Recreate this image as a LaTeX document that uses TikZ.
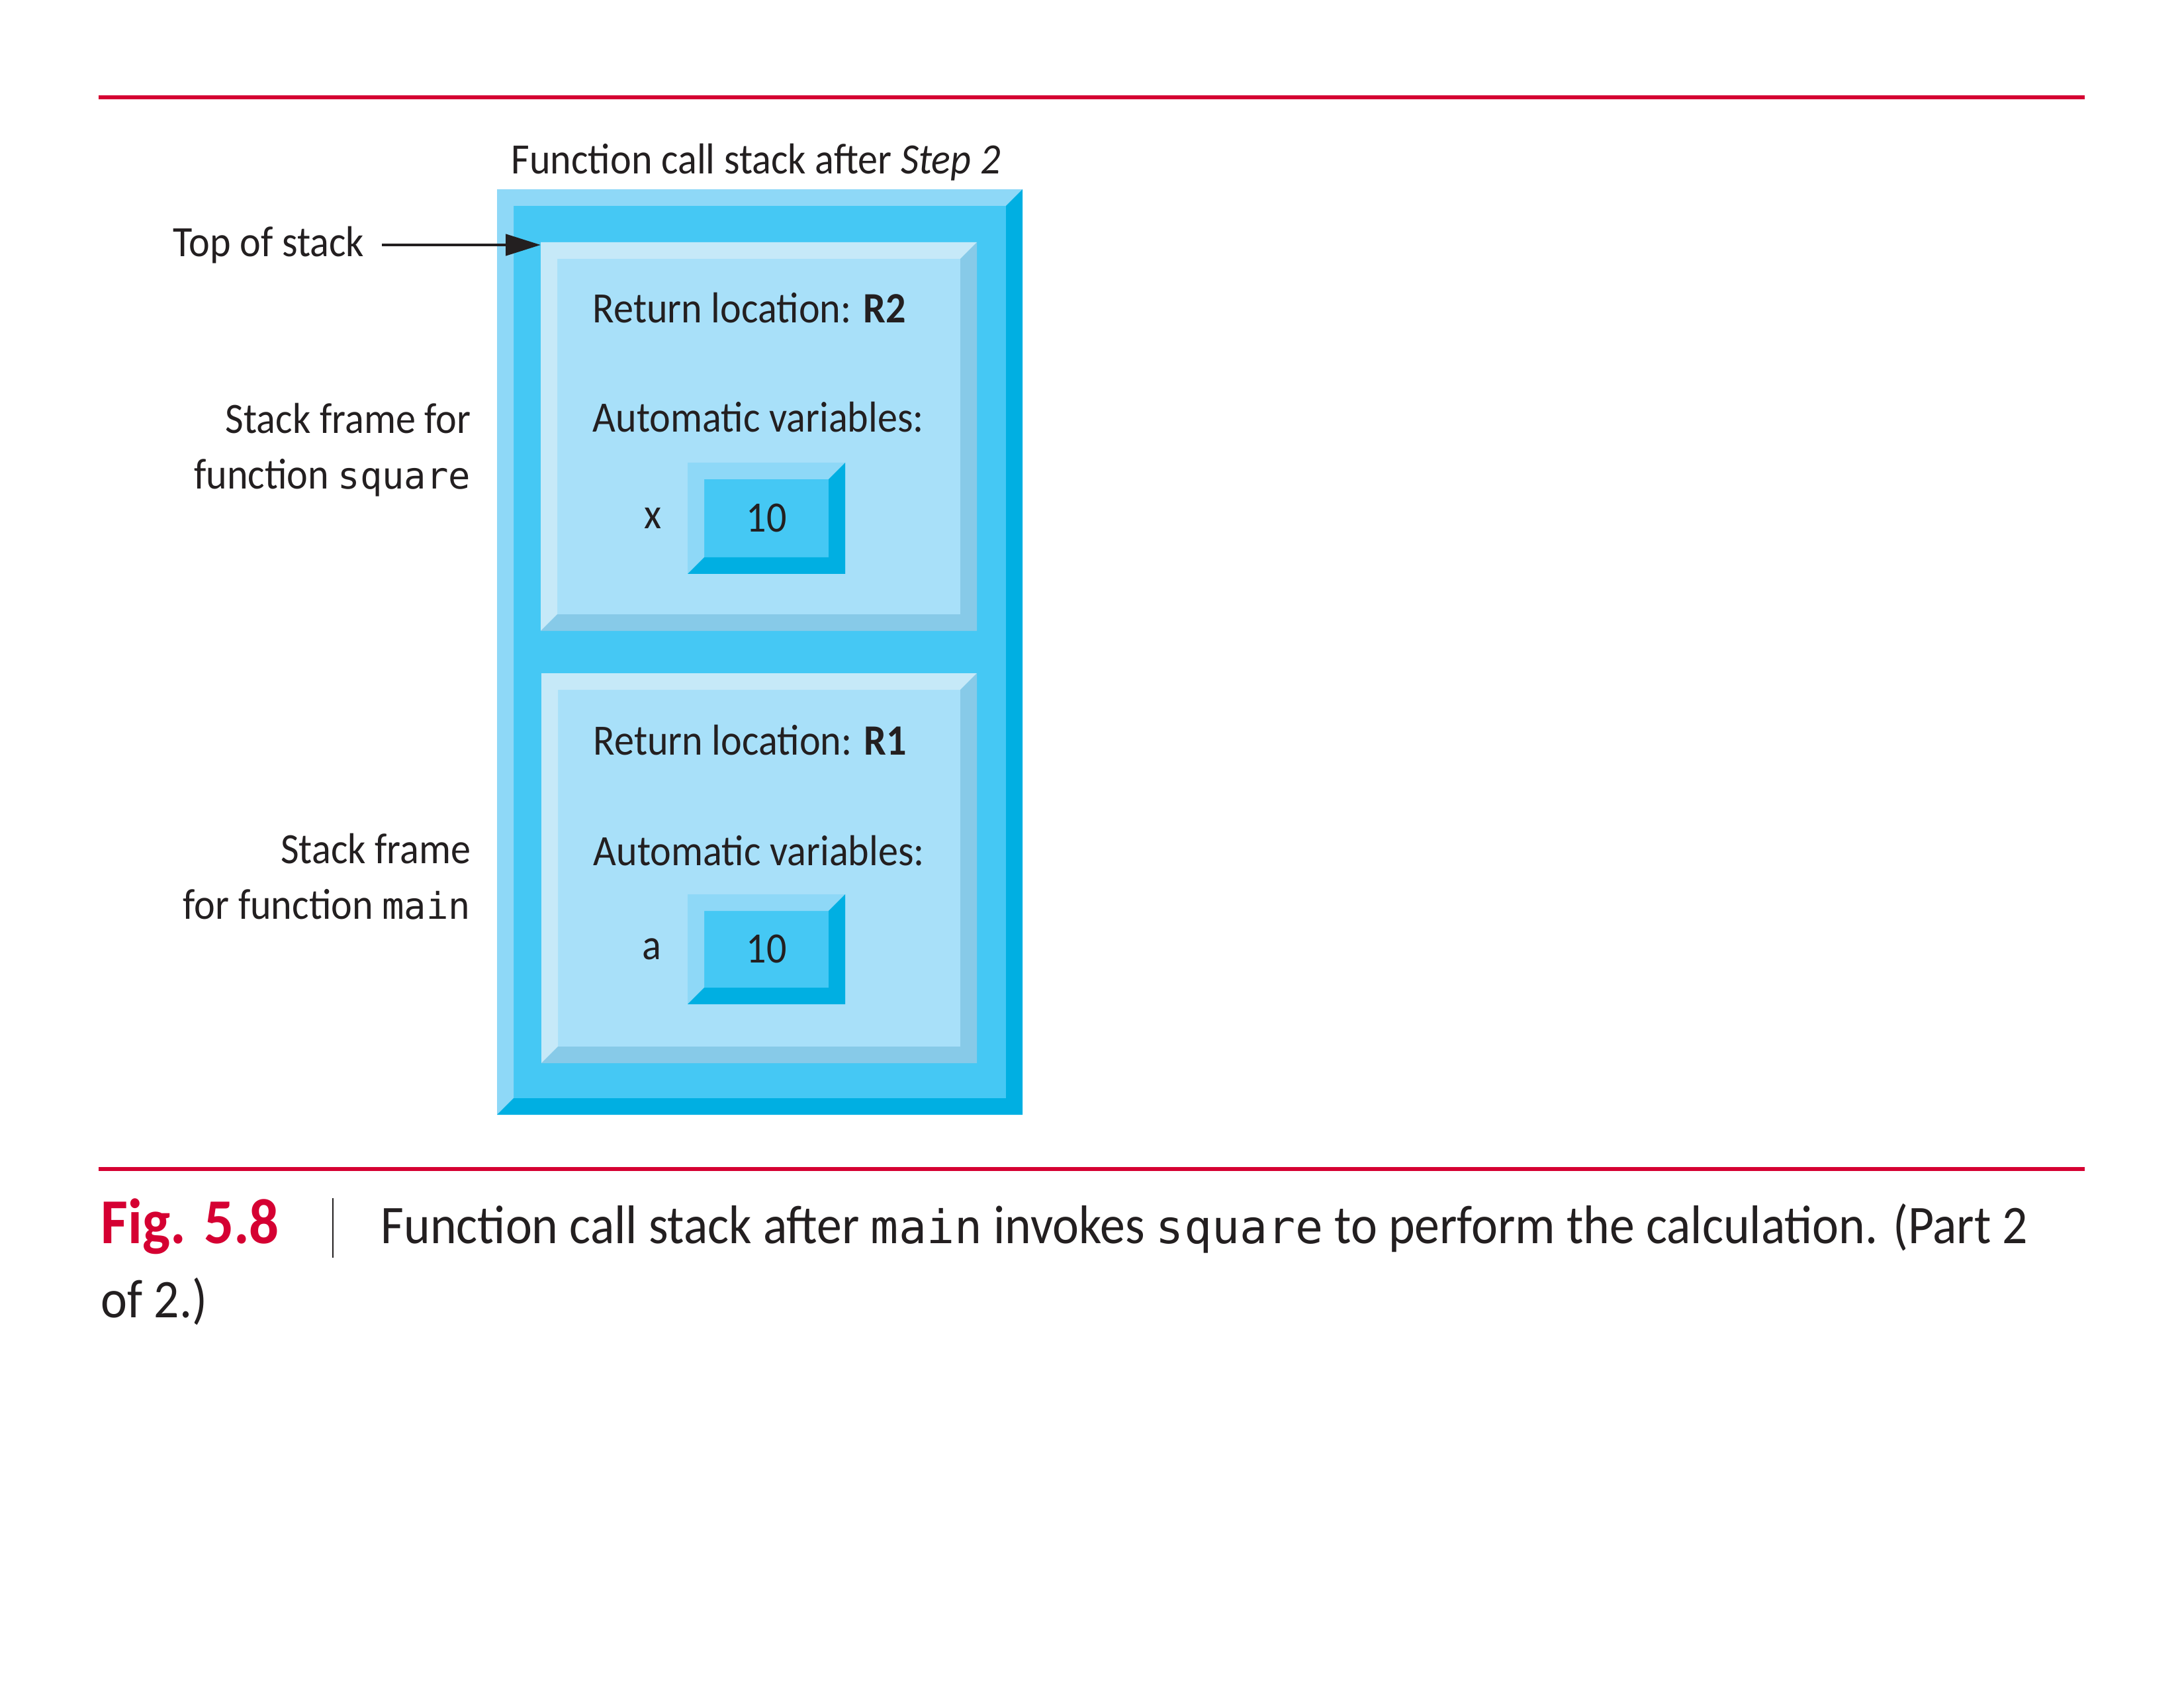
\documentclass[tikz,border=0pt]{standalone}
\usepackage{fontspec}
\setmainfont{Carlito}[FakeStretch=0.92]
\setmonofont{DejaVu Sans Mono}[Scale=0.85]
\usepackage{tikz}
\usetikzlibrary{arrows.meta,positioning}
\definecolor{rulered}{HTML}{D50032}
\definecolor{stkhi}{HTML}{8ED8F7}
\definecolor{stkface}{HTML}{45C8F4}
\definecolor{stklo}{HTML}{00AFE2}
\definecolor{frhi}{HTML}{C6E9F8}
\definecolor{frface}{HTML}{A8E0F9}
\definecolor{frlo}{HTML}{87CAE8}
\definecolor{ink}{HTML}{231F20}

% light top/left and dark bottom/right edge of a box node
\newcommand\bevelbox[4]{%
  \fill[#3] (#1.south west) -- (#1.north west) -- (#1.north east)
    -- ([shift={(-#2,-#2)}]#1.north east) -- ([shift={(#2,-#2)}]#1.north west)
    -- ([shift={(#2,#2)}]#1.south west) -- cycle;
  \fill[#4] (#1.south west) -- (#1.south east) -- (#1.north east)
    -- ([shift={(-#2,-#2)}]#1.north east) -- ([shift={(-#2,#2)}]#1.south east)
    -- ([shift={(#2,#2)}]#1.south west) -- cycle;}

\begin{document}
\begin{tikzpicture}[
  lbl/.style={text=ink,inner sep=0pt,font=\fontsize{18.6pt}{23.9pt}\selectfont},
  captxt/.style={text=ink,inner sep=0pt,font=\fontsize{23.4pt}{28pt}\selectfont},
  box/.style={inner sep=0pt,outer sep=0pt,draw=none},
  rule/.style={rulered,line width=1.5pt},
  arr/.style={-{Triangle[length=5.3mm,width=3.2mm]},line width=1.4pt,ink}]
  \useasboundingbox (0,0) rectangle (33,-25.5);
  \draw[rule] (1.49,-1.47) -- (31.50,-1.47);
  % the stack and its two frames
  \node[box,fill=stkface,minimum width=7.94cm,minimum height=13.98cm] (stk) at (11.48,-9.85) {};
  \bevelbox{stk}{0.25}{stkhi}{stklo}
  \node[box,fill=frface,minimum width=6.59cm,minimum height=5.87cm] (sqf) at (11.465,-6.595) {};
  \bevelbox{sqf}{0.25}{frhi}{frlo}
  \node[box,fill=frface,minimum width=6.58cm,minimum height=5.89cm] (mnf) at (11.47,-13.115) {};
  \bevelbox{mnf}{0.25}{frhi}{frlo}
  \node[lbl,anchor=base west] (sqr) at ([shift={(0.78,-1.22)}]sqf.north west) {Return location: \textbf{R2}};
  \node[lbl,anchor=base west] (sqa) at ([shift={(0.78,-2.87)}]sqf.north west) {Automatic variables:};
  \node[lbl,anchor=base west] (mnr) at ([shift={(0.78,-1.23)}]mnf.north west) {Return location: \textbf{R1}};
  \node[lbl,anchor=base west] (mna) at ([shift={(0.78,-2.90)}]mnf.north west) {Automatic variables:};
  \node[box,lbl,fill=stkface,minimum width=2.38cm,minimum height=1.68cm] (xv) at (11.58,-7.83) {10};
  \bevelbox{xv}{0.25}{stkhi}{stklo}
  \node[box,lbl,fill=stkface,minimum width=2.38cm,minimum height=1.66cm] (av) at (11.58,-14.34) {10};
  \bevelbox{av}{0.25}{stkhi}{stklo}
  \node[lbl,left=3.9mm of xv] (xn) {x};
  \node[lbl,left=3.9mm of av] (an) {a};
  % labels on the left
  \node[lbl,anchor=base west] (ttl) at (7.72,-2.63) {Function call stack after \textit{Step 2}};
  \node[lbl,anchor=east] (tos) at (5.51,-3.70) {Top of stack};
  \draw[arr,shorten <=2.6mm] (tos.east) -- (tos.east -| sqf.west);
  \node[lbl,align=right,anchor=east] (sql) at (7.12,-6.80) {Stack frame for\\function \texttt{square}};
  \node[lbl,align=right,anchor=east] (mnl) at (7.12,-13.24) {Stack frame\\for function \texttt{main}};
  % caption
  \draw[rule] (1.49,-17.66) -- (31.50,-17.66);
  \node[captxt,anchor=base west,text=rulered,font=\fontsize{27.5pt}{32pt}\selectfont\bfseries] (fig) at (1.52,-18.78) {Fig. 5.8};
  \draw[ink,line width=0.7pt] (5.03,-18.10) -- (5.03,-19.00);
  \node[captxt,anchor=base west] (cap1) at (5.75,-18.78) {Function call stack after \texttt{main} invokes \texttt{square} to perform the calculation. (Part 2};
  \node[captxt,anchor=base west] (cap2) at (1.52,-19.90) {of 2.)};
\end{tikzpicture}
\end{document}
